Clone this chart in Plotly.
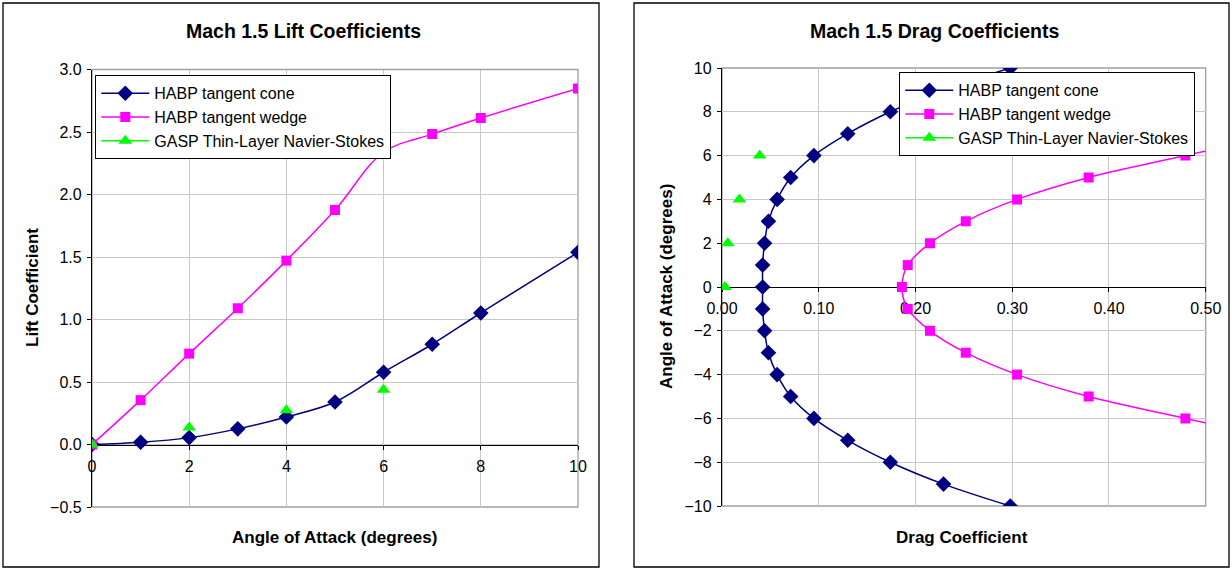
import plotly.graph_objects as go

W, H = 1232, 571

# ---- Lift coefficient vs angle of attack ----
lift_alpha_cone = [0, 1, 2, 3, 4, 5, 6, 7, 8, 10]
lift_cone = [0.0, 0.018, 0.055, 0.125, 0.22, 0.34, 0.578, 0.802, 1.052, 1.537]
lift_alpha_wedge = [0, 1, 2, 3, 4, 5, 6, 7, 8, 10]
lift_wedge = [0.0, 0.355, 0.727, 1.09, 1.471, 1.875, 2.338, 2.483, 2.612, 2.848]
lift_alpha_gasp = [0, 2, 4, 6]
lift_gasp = [0.0, 0.136, 0.274, 0.438]

# ---- Angle of attack vs drag coefficient ----
drag_alpha_cone = [-10, -9, -8, -7, -6, -5, -4, -3, -2, -1, 0,
                   1, 2, 3, 4, 5, 6, 7, 8, 9, 10]
drag_cone = [0.298, 0.229, 0.174, 0.130, 0.095, 0.071, 0.057, 0.048, 0.044, 0.042, 0.042,
             0.042, 0.044, 0.048, 0.057, 0.071, 0.095, 0.130, 0.174, 0.229, 0.298]
drag_alpha_wedge = [-7, -6, -5, -4, -3, -2, -1, 0, 1, 2, 3, 4, 5, 6, 7]
drag_wedge = [0.58, 0.479, 0.379, 0.305, 0.252, 0.215, 0.192, 0.186,
              0.192, 0.215, 0.252, 0.305, 0.379, 0.479, 0.58]
drag_alpha_gasp = [0, 2, 4, 6]
drag_gasp = [0.003, 0.006, 0.018, 0.039]

# axis ranges
lift_x_range, lift_y_range = [0, 10], [-0.5, 3.0]
drag_x_range, drag_y_range = [0, 0.5], [-10, 10]

NAMES = ["HABP tangent cone", "HABP tangent wedge", "GASP Thin-Layer Navier-Stokes"]
NAVY, MAGENTA, GREEN = "#000080", "#FF00FF", "#00FF00"
FONT = "Liberation Sans, Arial, sans-serif"
GRID = "#c8c8c8"
FRAME = "#a0a0a0"

# subplot domains (paper fractions)
x1_dom = [92 / W, 578 / W]
y1_dom = [1 - 507 / H, 1 - 69.5 / H]
x2_dom = [722 / W, 1205.7 / W]
y2_dom = [1 - 506 / H, 1 - 68 / H]


def zero_position(dom, rng):
    # paper position of the value 0 within an axis domain
    frac = (0 - rng[0]) / (rng[1] - rng[0])
    return dom[0] + frac * (dom[1] - dom[0])


def isolated(xs, ys):
    # separate points with gaps so no connecting line is drawn,
    # while the legend entry still shows a line sample
    gx, gy = [], []
    for a, b in zip(xs, ys):
        gx += [a, None]
        gy += [b, None]
    return gx[:-1], gy[:-1]


fig = go.Figure()


def add_series(x, y, name, color, symbol, size, xa, ya, legend):
    fig.add_trace(go.Scatter(
        x=x, y=y, name=name, xaxis=xa, yaxis=ya, legend=legend,
        mode="lines+markers", connectgaps=False,
        line=dict(color=color, width=1.5, shape="spline", smoothing=1.0),
        marker=dict(color=color, symbol=symbol, size=size, line=dict(width=0)),
    ))


add_series(lift_alpha_cone, lift_cone, NAMES[0], NAVY, "diamond", 12, "x", "y", "legend")
add_series(lift_alpha_wedge, lift_wedge, NAMES[1], MAGENTA, "square", 10, "x", "y", "legend")
add_series(*isolated(lift_alpha_gasp, lift_gasp), NAMES[2], GREEN, "triangle-up", 12, "x", "y", "legend")

add_series(drag_cone, drag_alpha_cone, NAMES[0], NAVY, "diamond", 12, "x2", "y2", "legend2")
add_series(drag_wedge, drag_alpha_wedge, NAMES[1], MAGENTA, "square", 10, "x2", "y2", "legend2")
add_series(*isolated(drag_gasp, drag_alpha_gasp), NAMES[2], GREEN, "triangle-up", 12, "x2", "y2", "legend2")

tickfont = dict(family=FONT, size=16, color="black")
common = dict(showgrid=True, gridcolor=GRID, gridwidth=1, zeroline=False,
              showline=True, linecolor="black", linewidth=1.3,
              ticks="outside", ticklen=4, tickcolor="black", tickwidth=1.3,
              tickfont=tickfont, layer="below traces", fixedrange=True,
              automargin=False)

legend_common = dict(bgcolor="white", bordercolor="black", borderwidth=1.3,
                     font=dict(family=FONT, size=16, color="black"),
                     xanchor="left", yanchor="top", tracegroupgap=0,
                     itemwidth=48)

fig.update_layout(
    width=W, height=H, autosize=False,
    margin=dict(l=0, r=0, t=0, b=0, pad=0, autoexpand=False),
    paper_bgcolor="white", plot_bgcolor="white",
    xaxis=dict(domain=x1_dom, range=lift_x_range, dtick=2, tick0=0, ticklabelstandoff=3,
               anchor="free", position=zero_position(y1_dom, lift_y_range), **common),
    yaxis=dict(domain=y1_dom, range=lift_y_range, dtick=0.5, tickformat=".1f",
               ticklabelstandoff=2, anchor="x", **common),
    xaxis2=dict(domain=x2_dom, range=drag_x_range, dtick=0.1, tick0=0, tickformat=".2f",
                ticklabelstandoff=3,
                anchor="free", position=zero_position(y2_dom, drag_y_range), **common),
    yaxis2=dict(domain=y2_dom, range=drag_y_range, dtick=2, ticklabelstandoff=2,
                anchor="x2", **common),
    legend=dict(x=95 / W, y=1 - 75 / H, **legend_common),
    legend2=dict(x=899 / W, y=1 - 72 / H, **legend_common),
    showlegend=True,
)

# chart frames and plot-area borders
shapes = []
for x0, x1 in [(3, 599), (634, 1229)]:
    shapes.append(dict(type="rect", xref="paper", yref="paper",
                       x0=x0 / W, x1=x1 / W, y0=1 - 567 / H, y1=1 - 3 / H,
                       line=dict(color="black", width=1.3), layer="below"))
for xd, yd in [("x domain", "y domain"), ("x2 domain", "y2 domain")]:
    shapes.append(dict(type="rect", xref=xd, yref=yd, x0=0, x1=1, y0=0, y1=1,
                       line=dict(color=FRAME, width=1.3), layer="below"))
fig.update_layout(shapes=shapes)

title_font = dict(family=FONT, size=19.5, color="black")
axis_title_font = dict(family=FONT, size=17, color="black")


def text(x, y, s, font, angle=0):
    fig.add_annotation(x=x / W, y=1 - y / H, xref="paper", yref="paper",
                       text=s, showarrow=False, font=font, textangle=angle,
                       xanchor="center", yanchor="middle")


text(303, 31, "<b>Mach 1.5 Lift Coefficients</b>", title_font)
text(934, 31, "<b>Mach 1.5 Drag Coefficients</b>", title_font)
text(335, 537, "<b>Angle of Attack (degrees)</b>", axis_title_font)
text(962, 537, "<b>Drag Coefficient</b>", axis_title_font)
text(32, 288, "<b>Lift Coefficient</b>", axis_title_font, angle=-90)
text(666, 287, "<b>Angle of Attack (degrees)</b>", axis_title_font, angle=-90)

fig.write_html("out.html", post_script="document.body.style.margin='0px';")
